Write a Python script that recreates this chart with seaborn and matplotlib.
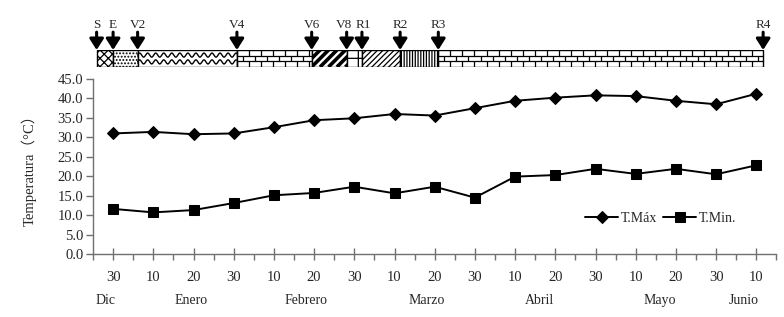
import numpy as np
import pandas as pd
import matplotlib
matplotlib.use('Agg')
import matplotlib.pyplot as plt
import matplotlib.transforms as mtransforms
from matplotlib.patches import Rectangle
from matplotlib.ticker import FormatStrFormatter
import seaborn as sns

# fechas cada 10 dias, desde 30 Dic hasta 10 Junio
day_labels = ['30', '10', '20', '30', '10', '20', '30', '10', '20',
              '30', '10', '20', '30', '10', '20', '30', '10']
t_max = [31.0, 31.4, 30.8, 31.0, 32.6, 34.4, 34.9, 36.0, 35.6,
         37.5, 39.4, 40.2, 40.8, 40.6, 39.4, 38.5, 41.2]
t_min = [11.6, 10.7, 11.3, 13.1, 15.1, 15.7, 17.3, 15.6, 17.3,
         14.5, 19.9, 20.3, 21.9, 20.6, 21.9, 20.5, 22.8]
months = ['Dic', 'Enero', 'Febrero', 'Marzo', 'Abril', 'Mayo', 'Junio']
month_pos = [-0.2, 1.95, 4.8, 7.8, 10.6, 13.6, 15.7]

# etapas fenologicas (posicion en unidades de 10 dias desde 30 Dic)
stage_labels = ['S', 'E', 'V2', 'V4', 'V6', 'V8', 'R1', 'R2', 'R3', 'R4']
stage_pos = [-0.41, 0.0, 0.61, 3.08, 4.94, 5.81, 6.19, 7.14, 8.09, 16.17]
stage_fill = ['xxxx', '.....', 'wave', 'brick', 'bold', '+', '//////', '||||||', 'brick']

df = pd.DataFrame({'idx': np.arange(len(day_labels)), 'T.Máx': t_max, 'T.Min.': t_min})

sns.set_style('ticks')
plt.rcParams['font.family'] = ['Liberation Serif', 'Noto Sans CJK SC', 'DejaVu Sans']
plt.rcParams['hatch.linewidth'] = 0.9
plt.rcParams['hatch.color'] = 'black'

W, H = 784, 317
fig = plt.figure(figsize=(W / 100, H / 100), dpi=100)
ax = fig.add_axes([93 / W, 1 - 254 / H, 683.4 / W, 175 / H])

sns.lineplot(data=df, x='idx', y='T.Máx', marker='D', markersize=6.5, color='black',
             linewidth=1.4, markeredgecolor='black', label='T.Máx', ax=ax)
sns.lineplot(data=df, x='idx', y='T.Min.', marker='s', markersize=7.5, color='black',
             linewidth=1.4, markeredgecolor='black', label='T.Min.', ax=ax)

ax.set_xlim(-0.5, len(day_labels) - 0.5)
ax.set_ylim(0, 45)
ax.set_yticks(np.arange(0, 46, 5))
ax.yaxis.set_major_formatter(FormatStrFormatter('%.1f'))
ax.set_xticks(np.arange(len(day_labels)))
ax.set_xticklabels(day_labels)
ax.set_xticks(np.arange(-0.5, len(day_labels), 1), minor=True)
ax.tick_params(axis='x', which='major', direction='inout', length=8, width=1,
               color='#707070', pad=8, labelsize=10.5)
ax.tick_params(axis='x', which='minor', direction='out', length=4, width=1, color='#707070')
ax.tick_params(axis='y', direction='out', length=5, width=1, color='#707070', labelsize=10.5, pad=2)
ax.set_xlabel('')
ax.set_ylabel('Temperatura（°C）', fontsize=10.5)
ax.yaxis.set_label_coords(-0.083, 0.5)
sns.despine(ax=ax)
for s in ['left', 'bottom']:
    ax.spines[s].set_color('#707070')
    ax.spines[s].set_linewidth(1)

trans = mtransforms.blended_transform_factory(ax.transData, ax.transAxes)
for m, p in zip(months, month_pos):
    ax.text(p, -0.265, m, transform=trans, ha='center', va='center', fontsize=10)

ax.legend(loc='center left', bbox_to_anchor=(0.72, 0.205), ncol=2, frameon=False,
          fontsize=10, handlelength=2.4, handletextpad=0.2, columnspacing=0.4,
          borderpad=0, borderaxespad=0)

# barra de etapas fenologicas
bx = fig.add_axes([93 / W, 1 - 67 / H, 683.4 / W, 17 / H])
bx.set_xlim(ax.get_xlim())
bx.set_ylim(0, 1)
bx.axis('off')

for i, fill in enumerate(stage_fill):
    x0, x1 = stage_pos[i], stage_pos[i + 1]
    if fill in ('wave', 'brick', 'bold'):
        bg = Rectangle((x0, 0), x1 - x0, 1, facecolor='white', edgecolor='none')
        bx.add_patch(bg)
        if fill == 'wave':
            xs = np.linspace(x0, x1, 400)
            for yc in (0.3, 0.7):
                bx.plot(xs, yc + 0.12 * np.sin(2 * np.pi * (xs - x0) / 0.2), color='black', lw=1.0)
        elif fill == 'bold':
            dx = 17 / 40.2
            for xs0 in np.arange(x0 - dx, x1 + 0.1, 0.21):
                ln, = bx.plot([xs0, xs0 + dx], [0, 1], color='black', lw=2.6,
                              solid_capstyle='butt')
                ln.set_clip_path(bg)
        else:
            bw = 0.3
            for yl in (1 / 3, 2 / 3):
                bx.plot([x0, x1], [yl, yl], color='black', lw=0.9)
            for r in range(3):
                off = 0 if r % 2 == 0 else bw / 2
                xv = np.arange(x0 + off, x1, bw)
                bx.vlines(xv, r / 3, (r + 1) / 3, color='black', lw=0.9)
        bx.add_patch(Rectangle((x0, 0), x1 - x0, 1, facecolor='none', edgecolor='black', lw=1))
    else:
        bx.add_patch(Rectangle((x0, 0), x1 - x0, 1, facecolor='white', edgecolor='black',
                               lw=1, hatch=fill))

for lab, p in zip(stage_labels, stage_pos):
    bx.annotate('', xy=(p, 1.0), xytext=(p, 2.05),
                arrowprops=dict(arrowstyle='-|>,head_length=0.55,head_width=0.35',
                                lw=2.2, color='black', mutation_scale=12, shrinkA=0, shrinkB=0),
                annotation_clip=False)
    shift = {'V8': -0.06, 'R1': 0.04}.get(lab, 0)
    bx.text(p + shift, 2.5, lab, ha='center', va='center', fontsize=9.5)

fig.savefig('out.png', dpi=100)
